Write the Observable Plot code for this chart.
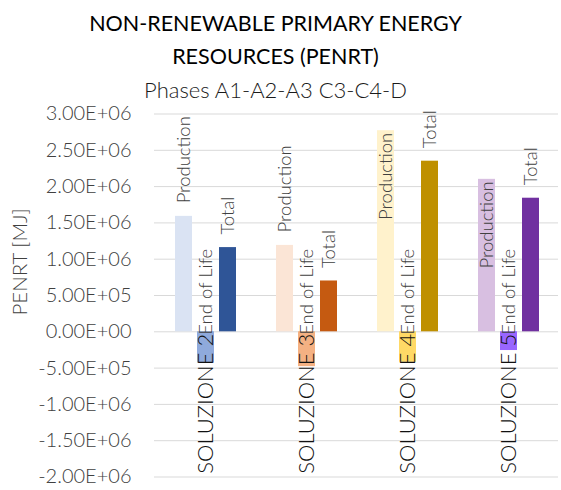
<!DOCTYPE html>
<html>
<head>
<meta charset="utf-8">
<script src="https://cdn.jsdelivr.net/npm/d3@7"></script>
<script src="https://cdn.jsdelivr.net/npm/@observablehq/plot@0.6"></script>
<style>
  html, body { margin: 0; padding: 0; background: #fff; }
  #wrap { width: 561px; height: 490px; position: relative; overflow: hidden; }
  #head { width: 551px; height: 100px; box-sizing: border-box; padding-top: 7px; text-align: center; font-family: Lato, sans-serif; }
  #head .t { font-size: 21.5px; font-weight: 400; line-height: 33px; color: #000; }
  #head .s { font-size: 22px; font-weight: 300; line-height: 33px; color: #1a1a1a; }
  svg { display: block; }
</style>
</head>
<body>
<div id="wrap">
  <div id="head">
    <div class="t">NON-RENEWABLE PRIMARY ENERGY</div>
    <div class="t">RESOURCES (PENRT)</div>
    <div class="s">Phases A1-A2-A3 C3-C4-D</div>
  </div>
  <div id="chart"></div>
</div>
<script>
// ---- data ----
const groups = ["SOLUZIONE 2", "SOLUZIONE 3", "SOLUZIONE 4", "SOLUZIONE 5"];
const series = ["Production", "End of Life", "Total"];
const production = [1590000, 1190000, 2770000, 2100000];
const endOfLife = [-430000, -480000, -420000, -258000];
const total = [1160000, 700000, 2350000, 1840000];
const productionColors = ["#dae3f3", "#fbe5d6", "#fff2cc", "#d8bfe1"];
const endOfLifeColors = ["#8faadc", "#f4b183", "#ffd966", "#9966ff"];
const totalColors = ["#2f5597", "#c55a11", "#bf9000", "#7030a0"];
const yTicks = [-2000000, -1500000, -1000000, -500000, 0, 500000, 1000000, 1500000, 2000000, 2500000, 3000000];
const yLabel = "PENRT [MJ]";

// ---- table ----
const valuesBySeries = [production, endOfLife, total];
const colorsBySeries = [productionColors, endOfLifeColors, totalColors];
const rows = [];
groups.forEach((g, gi) => {
  series.forEach((s, si) => {
    rows.push({group: g, series: s, value: valuesBySeries[si][gi], color: colorsBySeries[si][gi]});
  });
});

// ---- layout ----
const W = 561, H = 390, mTop = 13.5, mBottom = 13.5, mLeft = 153, mRight = 2;
const yMin = yTicks[0], yMax = yTicks[yTicks.length - 1];
const labelSize = 18.5, labelGap = 13;
const innerH = H - mTop - mBottom;
const py = v => mTop + (yMax - v) / (yMax - yMin) * innerH;
// Excel-like: an "outside end" label that would run off the top is moved inside the bar
const fitsOutside = d => py(d.value) - labelGap - d.series.length * labelSize * 0.5 >= mTop - 20;

function sci(v) {
  const [m, e] = v.toExponential(2).split("e");
  return m + "E" + e[0] + e.slice(1).padStart(2, "0");
}

const chart = Plot.plot({
  width: W,
  height: H,
  marginTop: mTop,
  marginBottom: mBottom,
  marginLeft: mLeft,
  marginRight: mRight,
  style: {fontFamily: "Lato, sans-serif", fontSize: "20px", fontWeight: 300, color: "#404040", background: "white", overflow: "visible"},
  facet: {data: rows, x: "group"},
  fx: {domain: groups, padding: 0, axis: null, label: null},
  x: {domain: series, axis: null, paddingInner: 0.226, paddingOuter: 0.858, align: 0.52},
  y: {domain: [yMin, yMax], ticks: yTicks, tickFormat: sci, tickSize: 0, tickPadding: 23, label: null},
  color: {type: "identity"},
  marks: [
    Plot.ruleY(yTicks, {stroke: "#d9d9d9", strokeWidth: 1}),
    Plot.barY(rows, {x: "series", y: "value", fill: "color"}),
    Plot.text(rows, {filter: d => d.value > 0 && fitsOutside(d), x: "series", y: "value", text: "series", rotate: -90, textAnchor: "start", dy: -labelGap, fontSize: labelSize, fill: "#404040"}),
    Plot.text(rows, {filter: d => d.value > 0 && !fitsOutside(d), x: "series", y: "value", text: "series", rotate: -90, textAnchor: "end", dy: 2, fontSize: labelSize, fill: "#404040"}),
    Plot.text(rows, {filter: d => d.value < 0, x: "series", y: () => 0, text: "series", rotate: -90, textAnchor: "start", dy: 3, fontSize: labelSize, fill: "#404040"}),
    Plot.text(rows, {filter: d => d.series === "End of Life", x: "series", y: () => 0, text: "group", rotate: -90, textAnchor: "end", dy: 2, fontSize: 22, fill: "#111"})
  ]
});

d3.select(chart).append("text")
  .attr("transform", "translate(20,162) rotate(-90)")
  .attr("text-anchor", "middle")
  .attr("dy", "0.35em")
  .attr("font-size", 20.5)
  .attr("fill", "#404040")
  .text(yLabel);

document.getElementById("chart").appendChild(chart);
</script>
</body>
</html>
